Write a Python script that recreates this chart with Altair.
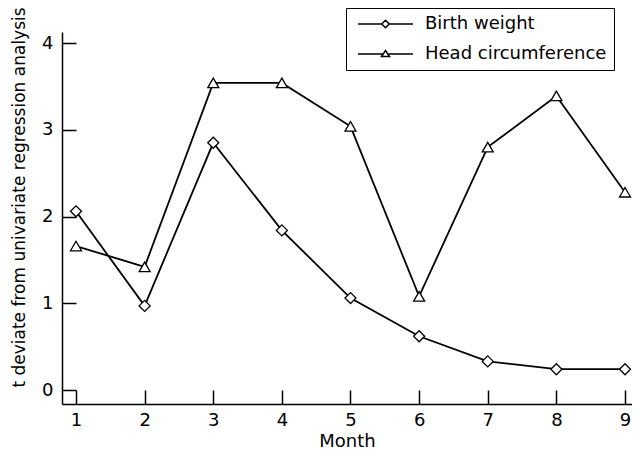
import altair as alt
import pandas as pd

months = [1, 2, 3, 4, 5, 6, 7, 8, 9]
birth_weight = [2.06, 0.97, 2.85, 1.84, 1.06, 0.62, 0.33, 0.24, 0.24]
head_circ = [1.66, 1.42, 3.54, 3.54, 3.04, 1.08, 2.80, 3.39, 2.28]
series_names = ["Birth weight", "Head circumference"]
y_ticks = [0, 1, 2, 3, 4]

df = pd.DataFrame({
    "month": months * 2,
    "value": birth_weight + head_circ,
    "series": [series_names[0]] * len(months) + [series_names[1]] * len(months),
})

W, H = 570, 372
FONT = "DejaVu Sans"
FS = 18

xscale = alt.Scale(domain=[0.796, 9.102], nice=False, zero=False)
yscale = alt.Scale(domain=[-0.161, 4.127], nice=False, zero=False)

base = alt.Chart(df)

x_main = alt.X("month:Q", scale=xscale, title="Month",
               axis=alt.Axis(orient="bottom", values=months, ticks=False, tickSize=0,
                             domainColor="black", domainWidth=1.5, grid=False,
                             labelFont=FONT, labelFontSize=FS, labelColor="black",
                             labelPadding=7, format="d",
                             titleFont=FONT, titleFontSize=FS, titleFontWeight="normal",
                             titleColor="black", titlePadding=3))
y_main = alt.Y("value:Q", scale=yscale, title="t deviate from univariate regression analysis",
               axis=alt.Axis(orient="left", values=y_ticks, ticks=False, tickSize=0,
                             domainColor="black", domainWidth=1.5, grid=False,
                             labelFont=FONT, labelFontSize=FS, labelColor="black",
                             labelPadding=9, format="d",
                             titleFont=FONT, titleFontSize=17, titleFontWeight="normal",
                             titleColor="black", titleX=-43, titleY=165,
                             titleBaseline="middle", titleAlign="center", titleAngle=270))

x_tick = alt.X("month:Q", scale=xscale, title=None,
               axis=alt.Axis(orient="top", offset=-H, values=months, ticks=True, tickSize=14,
                             tickColor="black", tickWidth=1.5, labels=False, domain=False,
                             grid=False))
y_tick = alt.Y("value:Q", scale=yscale, title=None,
               axis=alt.Axis(orient="right", offset=-W, values=y_ticks, ticks=True, tickSize=14,
                             tickColor="black", tickWidth=1.5, labels=False, domain=False,
                             grid=False))

lines = base.mark_line(color="black", strokeWidth=1.8).encode(
    x=x_main, y=y_main, detail="series:N")

points = base.mark_point(filled=True, fill="white", stroke="black", strokeWidth=1.3,
                         size=121, opacity=1).encode(
    x=x_tick, y=y_tick,
    shape=alt.Shape("series:N",
                    scale=alt.Scale(domain=series_names, range=["diamond", "triangle-up"]),
                    legend=None))

# legend symbols: a short line with the marker on it (marker shifted right within the symbol)
legend_paths = [
    "M-0.8,0H3.95M5.45,0H10.2M3.95,0L4.7,-0.75L5.45,0L4.7,0.75Z",
    "M-0.8,0H4.23M5.17,0H10.2M3.9,0.5L4.7,-0.7L5.5,0.5Z",
]

# legend-only layer: its marks are parked outside the view and clipped away
legend_layer = base.mark_point(
    filled=True, fill="white", stroke="black", strokeWidth=1.4, opacity=1, clip=True,
    size=100).encode(
    x=alt.value(-200), y=alt.value(-200),
    shape=alt.Shape("series:N",
                    scale=alt.Scale(domain=series_names, range=legend_paths),
                    legend=alt.Legend(title=None, orient="none", legendX=284, legendY=-24,
                                      symbolSize=100, labelOffset=54,
                                      labelLimit=400,
                                      labelFont=FONT, labelFontSize=FS, labelColor="black",
                                      strokeColor="black", padding=7,
                                      rowPadding=12)))

chart = alt.layer(lines, points, legend_layer).resolve_scale(
    shape="independent").resolve_axis(x="independent", y="independent").properties(
    width=W, height=H,
    autosize=alt.AutoSizeParams(type="none"),
    padding={"left": 54, "top": 24, "right": 0, "bottom": 45},
    background="white",
).configure_view(stroke=None)

chart.save("out.html", embed_options={"renderer": "svg", "actions": False})
